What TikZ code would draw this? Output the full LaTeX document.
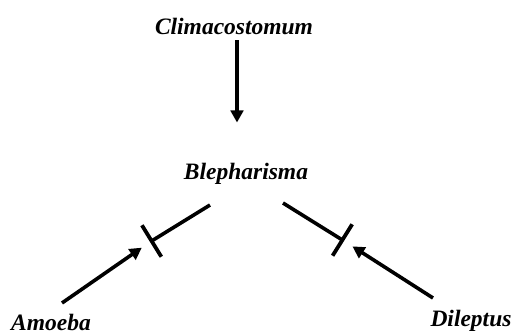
\documentclass[tikz,border=0pt]{standalone}
\usepackage{fontspec}
\setmainfont{Liberation Serif}
\usepackage{tikz}
\usetikzlibrary{arrows.meta}
\tikzset{
  species/.style = {anchor=base,inner sep=0pt,font=\fontsize{23.5}{28}\selectfont\bfseries\itshape},
  actarr/.style  = {-{Triangle[length=12pt,width=12.5pt]},line width=3.6pt},
  inhib/.style   = {-{Bar[width=37pt,line width=3.8pt]},line width=3.6pt}
}

\begin{document}
\begin{tikzpicture}[x=1pt,y=-1pt]
  \useasboundingbox (0,0) rectangle (512,334);
  \node[species] (clima)    at (234,35)  {Climacostomum};
  \node[species] (bleph)    at (246,180) {Blepharisma};
  \node[species] (amoeba)   at (51,330)  {Amoeba};
  \node[species] (dileptus) at (471,326) {Dileptus};
  % ends of the inhibition lines
  \coordinate (barL)  at (150,242);
  \coordinate (barR)  at (344,241);
  \coordinate (blephL) at (210,205);
  \coordinate (blephR) at (283,203);
  \coordinate (amoebaT)   at (62,303);
  \coordinate (dileptusT) at (433,298);
  \draw[actarr,shorten <=5pt,shorten >=41pt] ([xshift=3pt]clima.south) -- ([xshift=3pt]clima.south |- bleph.north);
  \draw[inhib] (blephL) -- (barL);
  \draw[inhib] (blephR) -- (barR);
  \draw[actarr,shorten >=10pt] (amoebaT) -- (barL);
  \draw[actarr,shorten >=10pt] (dileptusT) -- (barR);
\end{tikzpicture}
\end{document}
